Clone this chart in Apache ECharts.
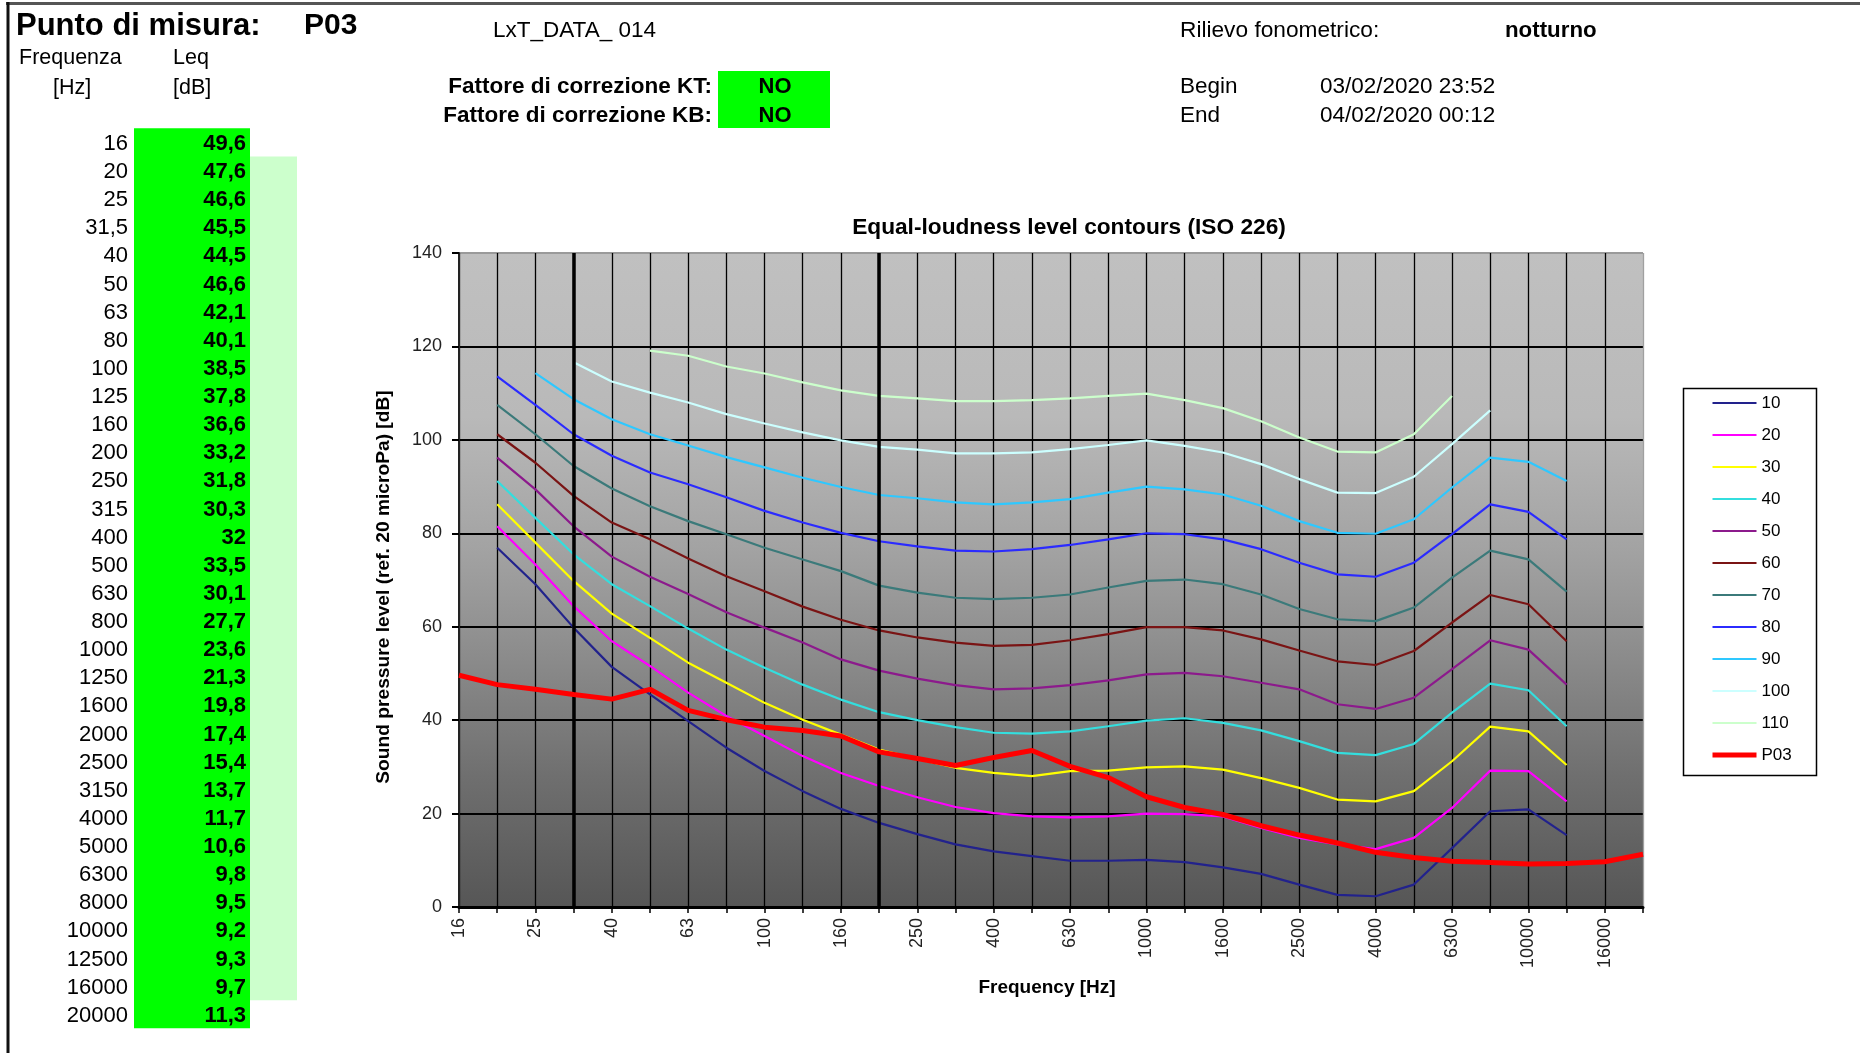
<!DOCTYPE html>
<html>
<head>
<meta charset="utf-8">
<script src="https://cdn.jsdelivr.net/npm/echarts@6/dist/echarts.min.js"></script>
<style>
html,body{margin:0;padding:0;background:#fff;}
#chart{width:1860px;height:1053px;}
</style>
</head>
<body>
<div id="chart"></div>
<script>
// ---------------- DATA ----------------
const frequencyLabels = ['16','20','25','31,5','40','50','63','80','100','125','160','200','250','315','400','500','630','800','1000','1250','1600','2000','2500','3150','4000','5000','6300','8000','10000','12500','16000','20000'];

const leqP03 = [49.6,47.6,46.6,45.5,44.5,46.6,42.1,40.1,38.5,37.8,36.6,33.2,31.8,30.3,32,33.5,30.1,27.7,23.6,21.3,19.8,17.4,15.4,13.7,11.7,10.6,9.8,9.5,9.2,9.3,9.7,11.3];

const phon10  = [null,76.9,69.1,59.8,51.4,45.5,39.8,34.1,29.1,24.8,21.0,18.0,15.6,13.4,11.9,10.9,9.9,9.9,10.1,9.6,8.5,7.1,4.8,2.6,2.3,4.8,12.6,20.5,20.9,15.4,null,null];
const phon20  = [null,81.5,73.3,64.4,56.9,51.6,45.9,40.9,36.6,32.3,28.7,25.9,23.5,21.4,20.1,19.4,19.2,19.4,20.0,19.9,19.4,16.9,14.8,13.4,12.4,14.8,21.2,29.2,29.1,22.6,null,null];
const phon30  = [null,86.2,78.0,69.8,62.8,57.6,52.3,48.0,43.7,40.1,36.9,33.7,31.7,29.8,28.7,28.0,29.1,29.2,29.9,30.1,29.4,27.6,25.5,23.0,22.6,24.8,31.2,38.6,37.6,30.4,null,null];
const phon40  = [null,91.2,83.3,75.5,69.1,64.4,59.6,55.1,51.2,47.6,44.4,41.7,40.0,38.5,37.3,37.1,37.6,38.7,39.9,40.4,39.4,37.8,35.5,33.0,32.5,34.9,41.6,47.8,46.4,38.7,null,null];
const phon50  = [null,96.2,89.4,81.5,75.0,70.7,67.0,63.1,59.8,56.6,53.0,50.6,48.9,47.5,46.6,46.8,47.5,48.5,49.8,50.1,49.4,48.0,46.6,43.4,42.4,44.8,50.9,57.1,55.1,47.6,null,null];
const phon60  = [null,101.2,95.1,88.0,82.3,78.7,74.6,70.8,67.6,64.3,61.5,59.2,57.7,56.6,55.9,56.1,57.1,58.4,59.9,59.9,59.2,57.3,54.9,52.6,51.8,54.8,60.9,66.8,64.8,56.9,null,null];
const phon70  = [null,107.5,101.2,94.4,89.6,85.8,82.6,79.8,76.9,74.4,71.9,68.8,67.3,66.2,65.9,66.2,66.9,68.4,69.8,70.1,69.1,66.9,63.8,61.6,61.2,64.1,70.5,76.3,74.4,67.5,null,null];
const phon80  = [null,113.6,107.5,101.2,96.6,93.0,90.5,87.7,84.8,82.3,80.1,78.3,77.2,76.3,76.1,76.6,77.5,78.7,80.0,79.8,78.7,76.6,73.7,71.2,70.7,73.7,79.8,86.2,84.6,78.7,null,null];
const phon90  = [null,null,114.3,108.7,104.4,101.2,98.8,96.3,94.1,91.9,89.9,88.2,87.5,86.6,86.2,86.6,87.3,88.7,90.0,89.4,88.3,85.9,82.6,80.1,79.9,83.0,89.8,96.2,95.3,91.2,null,null];
const phon100 = [null,null,null,116.6,112.5,110.1,108.0,105.5,103.5,101.6,99.9,98.5,97.9,97.1,97.1,97.3,98.0,98.9,99.9,98.7,97.3,94.8,91.6,88.7,88.6,92.1,99.1,106.3,null,null,null,null];
const phon110 = [null,null,null,null,null,119.1,118.0,115.7,114.2,112.3,110.6,109.4,108.9,108.3,108.3,108.5,108.9,109.4,109.9,108.5,106.8,104.0,100.5,97.5,97.3,101.2,109.4,null,null,null,null,null];

const contourNames = ['10','20','30','40','50','60','70','80','90','100','110'];
const contourData = [phon10,phon20,phon30,phon40,phon50,phon60,phon70,phon80,phon90,phon100,phon110];
const measureName = 'P03';

// ---------------- STYLE ----------------
const FONT = '"Liberation Sans", Arial, Helvetica, sans-serif';
const contourColors = ['#22228c','#ff00ff','#ffff00','#33dede','#8c1a8c','#7a1414','#3b7a7a','#2b2bff','#2ec8ff','#ccffff','#ccffcc'];

function txt(x, y, text, size, bold, align, extra) {
  const o = {
    type: 'text', x: x, y: y, z: 20, silent: true,
    style: {
      text: text,
      font: (bold ? 'bold ' : '') + size + 'px ' + FONT,
      fill: '#000',
      textAlign: align || 'left', align: align || 'left',
      textVerticalAlign: 'middle', verticalAlign: 'middle'
    }
  };
  if (extra) Object.assign(o, extra);
  return o;
}
function rect(x, y, w, h, fill, stroke, lw, z) {
  return { type: 'rect', z: z == null ? 5 : z, silent: true, shape: { x: x, y: y, width: w, height: h },
    style: { fill: fill, stroke: stroke || null, lineWidth: lw || 0 } };
}
function line(x1, y1, x2, y2, stroke, lw) {
  return { type: 'line', z: 5, silent: true, shape: { x1: x1, y1: y1, x2: x2, y2: y2 },
    style: { stroke: stroke, lineWidth: lw } };
}

const graphics = [];
// frame
graphics.push(line(6, 3.5, 1860, 3.5, '#555', 3));
graphics.push(line(8, 2, 8, 1053, '#111', 3));
// header
graphics.push(txt(16, 26, 'Punto di misura:', 31, true));
graphics.push(txt(304, 26, measureName, 30, true));
graphics.push(txt(493, 30.5, 'LxT_DATA_ 014', 22.5, false));
graphics.push(txt(1180, 30.5, 'Rilievo fonometrico:', 22.7, false));
graphics.push(txt(1505, 30.5, 'notturno', 22.3, true));
graphics.push(txt(19, 58.5, 'Frequenza', 21.5, false));
graphics.push(txt(173, 58.5, 'Leq', 21.5, false));
graphics.push(txt(53, 88, '[Hz]', 21.5, false));
graphics.push(txt(173, 88, '[dB]', 21.5, false));
graphics.push(rect(718, 71, 112, 57, '#00ff00'));
graphics.push(txt(712, 87, 'Fattore di correzione KT:', 22.5, true, 'right'));
graphics.push(txt(712, 115.5, 'Fattore di correzione KB:', 22.5, true, 'right'));
graphics.push(txt(775, 87, 'NO', 22, true, 'center'));
graphics.push(txt(775, 115.5, 'NO', 22, true, 'center'));
graphics.push(txt(1180, 87, 'Begin', 22.5, false));
graphics.push(txt(1320, 87, '03/02/2020 23:52', 22.5, false));
graphics.push(txt(1180, 115.5, 'End', 22.5, false));
graphics.push(txt(1320, 115.5, '04/02/2020 00:12', 22.5, false));
// table
const tableTop = 128.3, rowH = 28.125;
graphics.push(rect(134, tableTop, 116, rowH * frequencyLabels.length, '#00ff00'));
graphics.push(rect(250, tableTop + rowH, 47, rowH * (frequencyLabels.length - 2), '#ccffcc'));
frequencyLabels.forEach(function (f, i) {
  const cy = tableTop + rowH * (i + 0.5) + 1.5;
  graphics.push(txt(128, cy, f, 22, false, 'right'));
  graphics.push(txt(246, cy, String(leqP03[i]).replace('.', ','), 22, true, 'right'));
});
// chart texts
graphics.push(txt(1069, 227.5, 'Equal-loudness level contours (ISO 226)', 22.7, true, 'center'));
graphics.push(txt(1047, 988, 'Frequency [Hz]', 19, true, 'center'));
graphics.push(txt(384, 587, 'Sound pressure level (ref. 20 microPa) [dB]', 19.2, true, 'center', { rotation: Math.PI / 2 }));
// legend box (below legend items)
graphics.push(rect(1683.5, 388.5, 133, 387, '#fff', '#000', 1.5, 0));

const series = contourNames.map(function (name, k) {
  const s = {
    name: name, type: 'line', data: contourData[k], symbol: 'none', showSymbol: false,
    connectNulls: false, smooth: false, animation: false, z: 3,
    lineStyle: { color: contourColors[k], width: 2.2 },
    itemStyle: { color: contourColors[k] }
  };
  if (k === 0) {
    s.markLine = {
      silent: true, symbol: ['none', 'none'], animation: false, z: 4,
      label: { show: false },
      lineStyle: { color: '#000', width: 3.5, type: 'solid' },
      data: [{ xAxis: '31,5' }, { xAxis: '200' }]
    };
  }
  return s;
});
series.push({
  name: measureName, type: 'line', data: leqP03, symbol: 'none', showSymbol: false,
  smooth: false, animation: false, z: 5,
  lineStyle: { color: '#ff0000', width: 5 },
  itemStyle: { color: '#ff0000' }
});

const legendItems = contourNames.map(function (n) { return { name: n, lineStyle: { width: 2 } }; })
  .concat([{ name: measureName, lineStyle: { width: 5 } }]);

const ySplitColors = ['#000', '#000', '#000', '#000', '#000', '#000', '#000', '#9a9a9a'];
const xSplitColors = frequencyLabels.map(function (_, i) { return i === frequencyLabels.length - 1 ? '#a0a0a0' : '#000'; });

const chart = echarts.init(document.getElementById('chart'), null, { renderer: 'canvas' });
chart.setOption({
  animation: false,
  backgroundColor: '#fff',
  textStyle: { fontFamily: FONT },
  grid: {
    left: 459, top: 253, width: 1184, height: 654, show: true, borderWidth: 0,
    backgroundColor: new echarts.graphic.LinearGradient(0, 0, 0, 1, [
      { offset: 0, color: '#c0c0c0' },
      { offset: 0.25, color: '#b9b9b9' },
      { offset: 0.45, color: '#a3a3a3' },
      { offset: 0.6, color: '#8e8e8e' },
      { offset: 0.8, color: '#6f6f6f' },
      { offset: 1, color: '#565656' }
    ])
  },
  legend: {
    show: true, orient: 'vertical', left: 1710, top: 394.5, padding: 0, z: 10,
    itemWidth: 44, itemHeight: 14, itemGap: 15, selectedMode: false,
    itemStyle: { color: 'rgba(0,0,0,0)', borderWidth: 0, opacity: 0 },
    textStyle: { fontSize: 17, color: '#000', fontFamily: FONT },
    data: legendItems
  },
  xAxis: {
    type: 'category', data: frequencyLabels, boundaryGap: false,
    axisLine: { show: true, lineStyle: { color: '#000', width: 3 } },
    axisTick: { show: true, interval: 0, length: 6, lineStyle: { color: '#000', width: 1.5 } },
    axisLabel: { interval: 1, rotate: 90, margin: 11, fontSize: 18, color: '#222', fontFamily: FONT },
    splitLine: { show: true, interval: 0, lineStyle: { color: xSplitColors, width: 1.3 } }
  },
  yAxis: {
    type: 'value', min: 0, max: 140, interval: 20,
    axisLine: { show: true, lineStyle: { color: '#222', width: 2 } },
    axisTick: { show: true, length: 7, lineStyle: { color: '#000', width: 2 } },
    axisLabel: { margin: 17, fontSize: 18, color: '#222', fontFamily: FONT },
    splitLine: { show: true, lineStyle: { color: ySplitColors, width: 2 } }
  },
  graphic: graphics,
  series: series
});
</script>
</body>
</html>
